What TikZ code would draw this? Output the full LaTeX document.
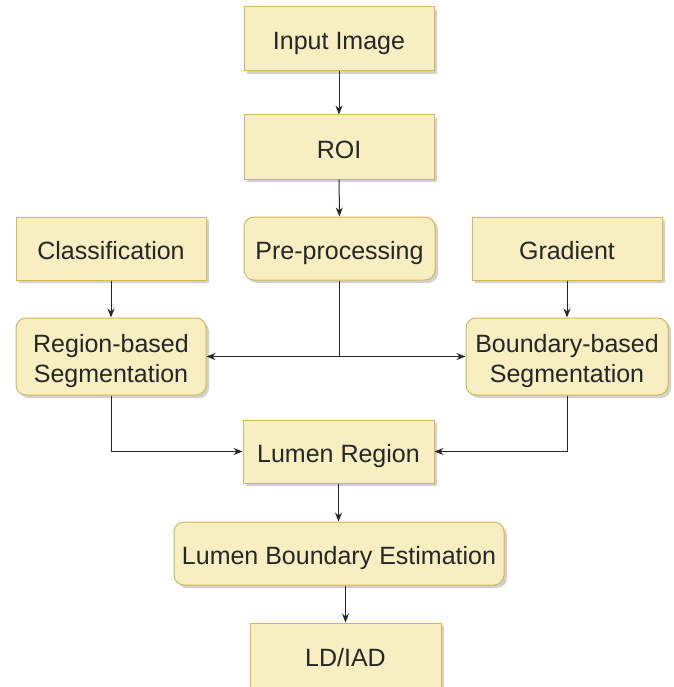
\documentclass[tikz,border=0pt]{standalone}
\usepackage{fontspec}
\setmainfont{Liberation Sans}
\usetikzlibrary{arrows.meta,shadows}
\definecolor{boxfill}{HTML}{F7EEC2}
\definecolor{boxline}{HTML}{D6B656}
\begin{document}
\begin{tikzpicture}[x=1pt,y=-1pt,
  box/.style={draw=boxline,fill=boxfill,line width=1pt,inner sep=0pt,align=center,
    font=\fontsize{25}{30}\selectfont,text=black!85,text height=22pt,text depth=0pt,
    drop shadow={shadow xshift=3pt,shadow yshift=-3pt,fill=black!30,opacity=0.6}},
  sq/.style={box},
  rd/.style={box,rounded corners=10pt},
  two/.style={text height=52pt,text depth=0pt},
  arr/.style={draw=black!85,line width=1pt,-{Stealth[length=9pt,width=7pt]}},
  ln/.style={draw=black!85,line width=1pt}]
\useasboundingbox (0,0) rectangle (673,687);
\node[sq,minimum width=190pt,minimum height=64pt] (inp) at (339,39) {Input Image};
\node[sq,minimum width=190pt,minimum height=64pt] (roi) at (339,147) {ROI};
\node[sq,minimum width=190pt,minimum height=63pt] (cls) at (111,248.5) {Classification};
\node[rd,minimum width=191pt,minimum height=63pt] (pre) at (339.5,248.5) {Pre-processing};
\node[sq,minimum width=190pt,minimum height=63pt] (grd) at (567,248.5) {Gradient};
\node[rd,two,minimum width=190pt,minimum height=77pt] (rbs) at (111,356.5) {Region-based\\Segmentation};
\node[rd,two,minimum width=202pt,minimum height=77pt] (bbs) at (567,356.5) {Boundary-based\\Segmentation};
\node[sq,minimum width=191pt,minimum height=63pt] (lr) at (338.5,451.5) {Lumen Region};
\node[rd,minimum width=330pt,minimum height=63pt] (lbe) at (339,553.5) {Lumen Boundary Estimation};
\node[sq,minimum width=191pt,minimum height=64pt] (ld) at (345.5,655) {LD/IAD};
\coordinate (j) at (339.5,356.5);
\draw[arr] (inp) -- (roi);
\draw[arr] (roi) -- (pre);
\draw[ln] (pre) -- (j);
\draw[arr] (j) -- (rbs);
\draw[arr] (j) -- (bbs);
\draw[arr] (cls) -- (rbs);
\draw[arr] (grd) -- (bbs);
\draw[arr] (rbs.south) |- (lr.west);
\draw[arr] (bbs.south) |- (lr.east);
\draw[arr] (lr) -- (lr|-lbe.north);
\draw[arr] (ld|-lbe.south) -- (ld);
\end{tikzpicture}
\end{document}
